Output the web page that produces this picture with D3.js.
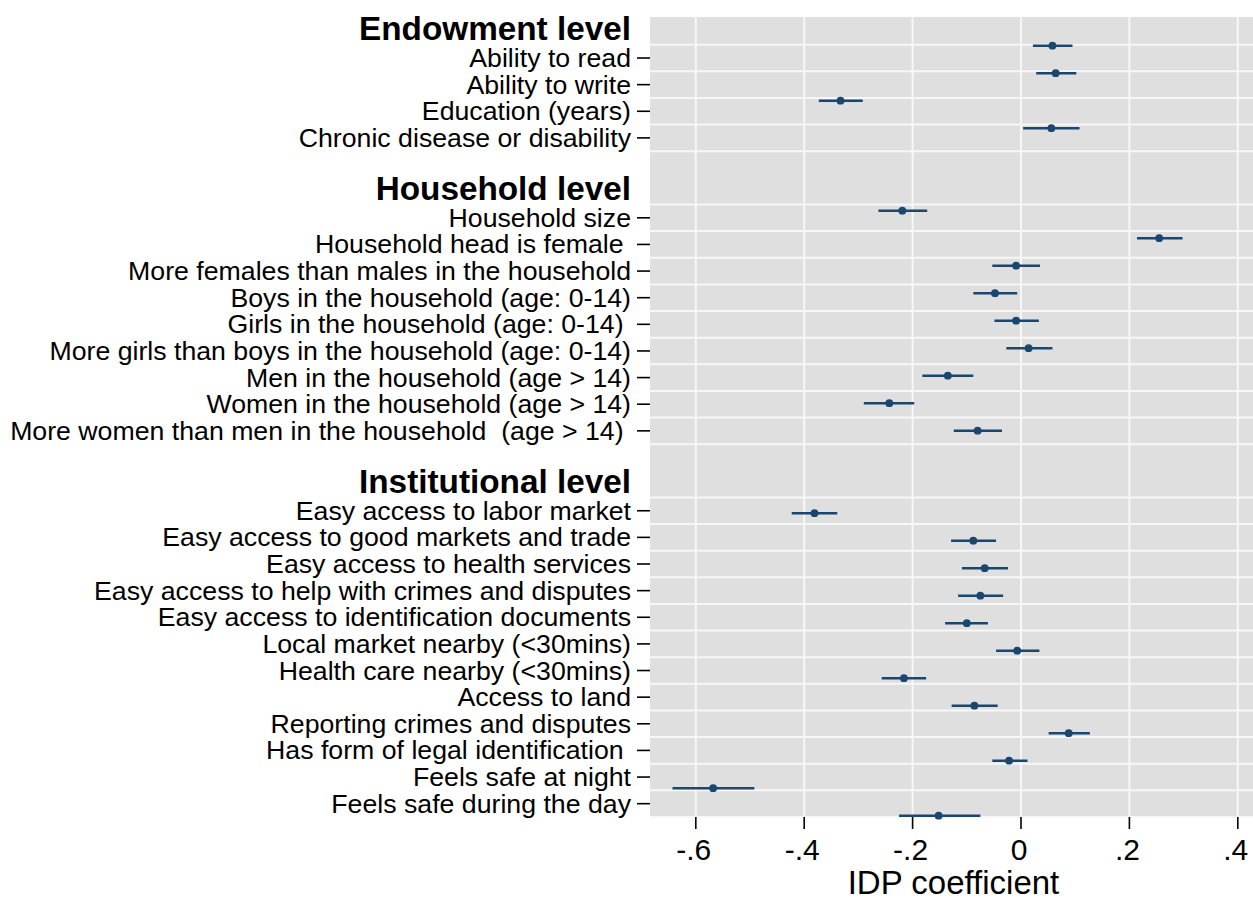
<!DOCTYPE html>
<html><head><meta charset="utf-8">
<script src="https://cdn.jsdelivr.net/npm/d3@7"></script>
<style>
html,body{margin:0;padding:0;background:#fff;}
svg{display:block;font-family:"Liberation Sans",Arial,Helvetica,sans-serif;}
text{white-space:pre;}
</style></head><body>
<svg id="chart" width="1253" height="900"></svg>
<script>
const groupNames = ["Endowment level", "Household level", "Institutional level"];
const labels = [
  "Ability to read", "Ability to write", "Education (years)", "Chronic disease or disability",
  "Household size", "Household head is female ", "More females than males in the household",
  "Boys in the household (age: 0-14)", "Girls in the household (age: 0-14) ",
  "More girls than boys in the household (age: 0-14)", "Men in the household (age > 14)",
  "Women in the household (age > 14)", "More women than men in the household  (age > 14) ",
  "Easy access to labor market", "Easy access to good markets and trade", "Easy access to health services",
  "Easy access to help with crimes and disputes", "Easy access to identification documents",
  "Local market nearby (<30mins)", "Health care nearby (<30mins)", "Access to land",
  "Reporting crimes and disputes", "Has form of legal identification ", "Feels safe at night",
  "Feels safe during the day"
];
const groupOf = [0,0,0,0, 1,1,1,1,1,1,1,1,1, 2,2,2,2,2,2,2,2,2,2,2,2];
const estimate = [0.058, 0.064, -0.333, 0.056,
  -0.219, 0.255, -0.009, -0.048, -0.009, 0.014, -0.135, -0.243, -0.080,
  -0.381, -0.088, -0.067, -0.075, -0.100, -0.007, -0.216, -0.086, 0.088, -0.022, -0.568, -0.152];
const ciLow = [0.022, 0.028, -0.373, 0.004,
  -0.263, 0.214, -0.053, -0.088, -0.049, -0.027, -0.182, -0.290, -0.124,
  -0.423, -0.129, -0.109, -0.116, -0.140, -0.046, -0.257, -0.128, 0.051, -0.053, -0.643, -0.225];
const ciHigh = [0.095, 0.102, -0.292, 0.108,
  -0.173, 0.298, 0.035, -0.007, 0.033, 0.058, -0.088, -0.197, -0.035,
  -0.339, -0.046, -0.024, -0.033, -0.061, 0.034, -0.175, -0.043, 0.127, 0.012, -0.492, -0.075];
const xTickValues = [-0.6, -0.4, -0.2, 0, 0.2, 0.4];
const xTickLabels = ["-.6", "-.4", "-.2", "0", ".2", ".4"];
const xTitle = "IDP coefficient";

// row layout: each group has a heading row, then its items, then a blank row
const itemRow = [], headRow = [];
let r = 0;
groupNames.forEach((g, gi) => {
  headRow.push(r - 1);
  labels.forEach((l, i) => { if (groupOf[i] === gi) itemRow[i] = r++; });
  r += 2;
});
const lastRow = d3.max(itemRow);

const svg = d3.select("#chart");
const plot = {left: 650, right: 1253, top: 17, bottom: 817};
const navy = "#1a476f";

const x = d3.scaleLinear().domain([-0.6, 0.4]).range([695.8, 1237.8]);
// axis/label scale and marker scale
const yTick = d3.scaleLinear().domain([-1.54, lastRow + 0.5]).range([plot.top, plot.bottom]);
const yDot = d3.scaleLinear().domain([0, lastRow]).range([45.7, 815.7]);

svg.append("rect").attr("x", plot.left).attr("y", plot.top)
  .attr("width", plot.right - plot.left + 5).attr("height", plot.bottom - plot.top)
  .attr("fill", "#dfdfdf");

// vertical grid
svg.append("g").selectAll("line").data(xTickValues).join("line")
  .attr("x1", d => x(d)).attr("x2", d => x(d))
  .attr("y1", plot.top).attr("y2", plot.bottom)
  .attr("stroke", "#f7f7f7").attr("stroke-width", 2);

// horizontal grid: boundaries around each item row
const gridPos = [];
itemRow.forEach(ri => { gridPos.push(ri - 0.5); gridPos.push(ri + 0.5); });
const gridUnique = Array.from(new Set(gridPos));
svg.append("g").selectAll("line").data(gridUnique).join("line")
  .attr("x1", plot.left).attr("x2", plot.right + 5)
  .attr("y1", d => yTick(d)).attr("y2", d => yTick(d))
  .attr("stroke", "#f7f7f7").attr("stroke-width", 2);

// y ticks + labels
const yAxisG = svg.append("g");
yAxisG.selectAll("line").data(labels).join("line")
  .attr("x1", plot.left - 13).attr("x2", plot.left)
  .attr("y1", (d, i) => yTick(itemRow[i])).attr("y2", (d, i) => yTick(itemRow[i]))
  .attr("stroke", "#000").attr("stroke-width", 1.6);
yAxisG.selectAll("text.lab").data(labels).join("text").attr("class", "lab")
  .attr("x", plot.left - 19).attr("y", (d, i) => yTick(itemRow[i]) + 9)
  .attr("text-anchor", "end").attr("font-size", 26.7).attr("fill", "#000")
  .text(d => d);
yAxisG.selectAll("text.head").data(groupNames).join("text").attr("class", "head")
  .attr("x", plot.left - 19).attr("y", (d, i) => yTick(headRow[i]) + 8.5)
  .attr("text-anchor", "end").attr("font-size", 33.3).attr("font-weight", "bold").attr("fill", "#000")
  .text(d => d);

// x axis ticks + labels
const xAxisG = svg.append("g");
xAxisG.selectAll("line").data(xTickValues).join("line")
  .attr("x1", d => x(d)).attr("x2", d => x(d))
  .attr("y1", plot.bottom).attr("y2", plot.bottom + 12)
  .attr("stroke", "#000").attr("stroke-width", 1.6);
xAxisG.selectAll("text").data(xTickValues).join("text")
  .attr("x", d => x(d) - 2).attr("y", 860)
  .attr("text-anchor", "middle").attr("font-size", 30).attr("fill", "#000")
  .text((d, i) => xTickLabels[i]);
svg.append("text").attr("x", (plot.left + plot.right) / 2 + 2).attr("y", 894)
  .attr("text-anchor", "middle").attr("font-size", 33).attr("fill", "#000").text(xTitle);

// CI lines and points
const marks = svg.append("g");
marks.selectAll("line").data(estimate).join("line")
  .attr("x1", (d, i) => x(ciLow[i])).attr("x2", (d, i) => x(ciHigh[i]))
  .attr("y1", (d, i) => yDot(itemRow[i])).attr("y2", (d, i) => yDot(itemRow[i]))
  .attr("stroke", navy).attr("stroke-width", 2.6);
marks.selectAll("circle").data(estimate).join("circle")
  .attr("cx", d => x(d)).attr("cy", (d, i) => yDot(itemRow[i]))
  .attr("r", 3.9).attr("fill", navy);
</script>
</body></html>
